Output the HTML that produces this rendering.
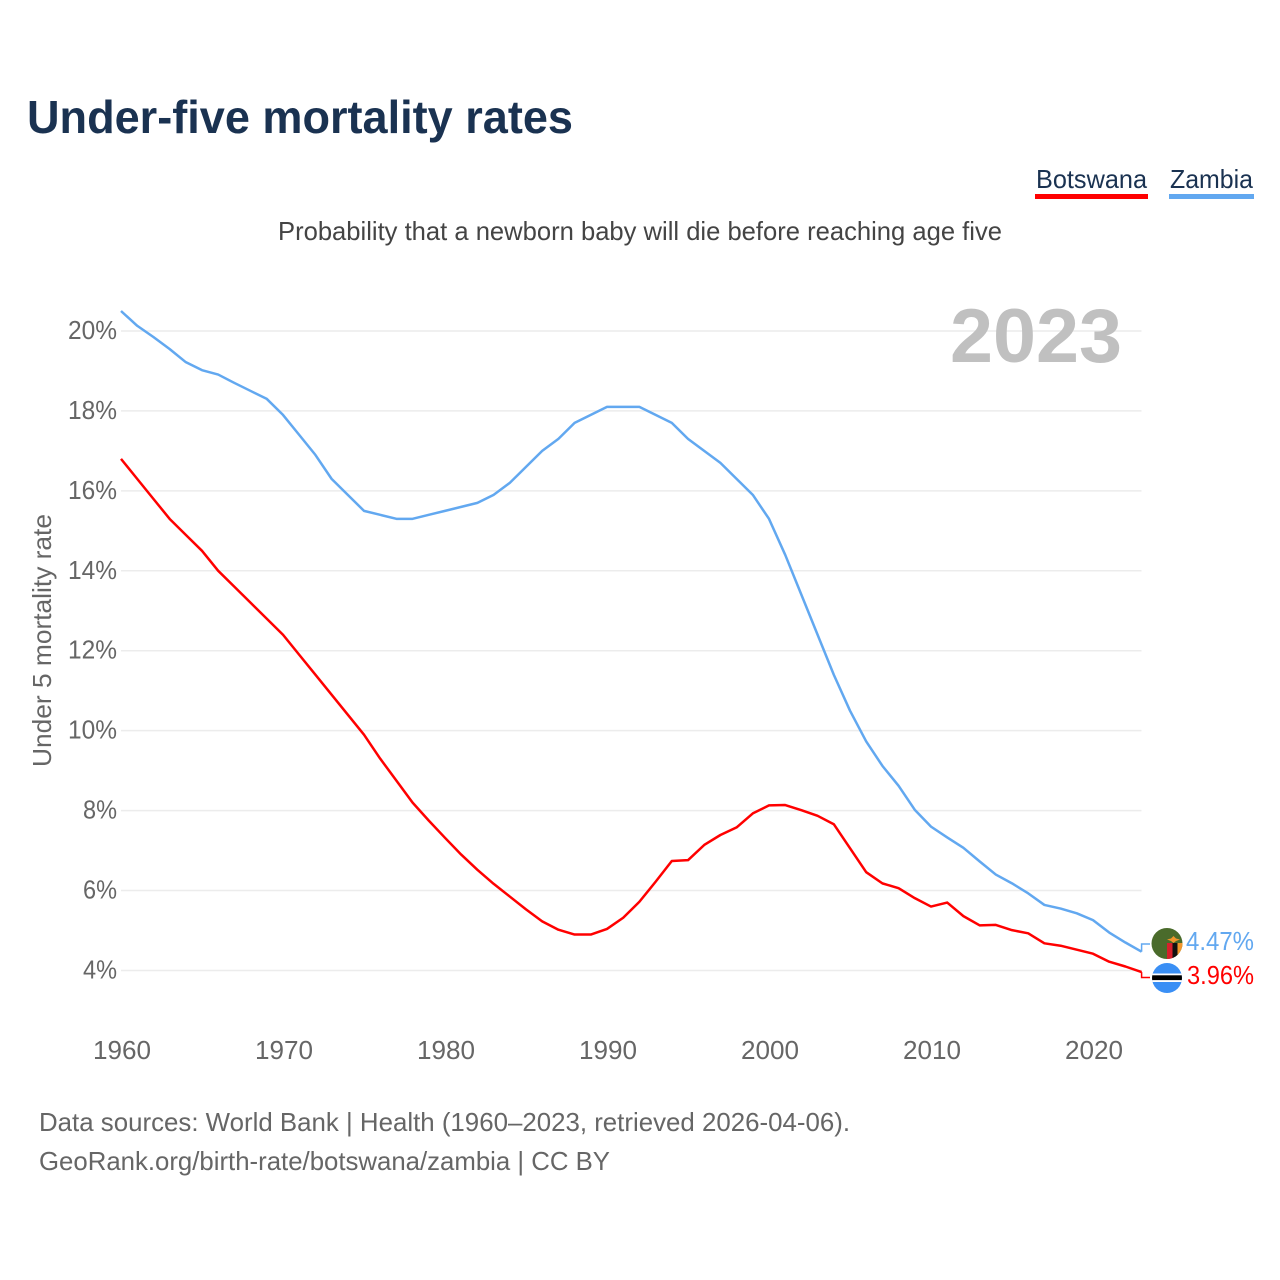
<!DOCTYPE html>
<html lang="en">
<head>
<meta charset="utf-8">
<title>Under-five mortality rates</title>
<style>
html,body{margin:0;padding:0;background:#fff;width:1280px;height:1280px;overflow:hidden}
svg{display:block;font-family:"Liberation Sans",sans-serif}
</style>
</head>
<body>
<svg id="chart" width="1280" height="1280" viewBox="0 0 1280 1280" xmlns="http://www.w3.org/2000/svg">
  <defs>
    <clipPath id="clip-zambia"><circle cx="1167" cy="943.5" r="15.5"/></clipPath>
    <clipPath id="clip-botswana"><circle cx="1167" cy="978" r="15"/></clipPath>
  </defs>
  <rect width="1280" height="1280" fill="#fff"/>
  <text x="27" y="133" font-size="46" font-weight="700" fill="#1a3251" textLength="546" lengthAdjust="spacingAndGlyphs">Under-five mortality rates</text>
  <g>
    <g>
      <text x="1036" y="188" font-size="26" fill="#1a3251" textLength="111" lengthAdjust="spacingAndGlyphs">Botswana</text>
      <rect x="1035" y="194" width="113" height="5" fill="#ff0000"/>
    </g>
    <g>
      <text x="1170" y="188" font-size="26" fill="#1a3251" textLength="83" lengthAdjust="spacingAndGlyphs">Zambia</text>
      <rect x="1169" y="194" width="85" height="5" fill="#62a8f0"/>
    </g>
  </g>
  <text x="278" y="240" font-size="26" fill="#444" textLength="724" lengthAdjust="spacingAndGlyphs">Probability that a newborn baby will die before reaching age five</text>
  <g id="grid"></g>
  <g id="y-ticks"></g>
  <g id="x-ticks"></g>
  <text x="950" y="362" font-size="76" font-weight="700" fill="#c0c0c0" textLength="172" lengthAdjust="spacingAndGlyphs">2023</text>
  <text transform="translate(51,767) rotate(-90)" font-size="26" fill="#666" textLength="253" lengthAdjust="spacingAndGlyphs">Under 5 mortality rate</text>
  <g id="series"></g>
  <g>
    <g clip-path="url(#clip-zambia)">
      <rect x="1150" y="926" width="34" height="36" fill="#4a6b2b"/>
      <rect x="1167" y="943" width="5.5" height="18" fill="#d6202c"/>
      <rect x="1172.5" y="943" width="5" height="18" fill="#111"/>
      <rect x="1177.5" y="943" width="5" height="18" fill="#f2962b"/>
      <path d="M1167 939.5l4-1 2.500-2.500 2.500 2.500 4 1-4 1.500-2.500 2-2.500-2z" fill="#f2962b"/>
    </g>
  </g>
  <g>
    <g clip-path="url(#clip-botswana)">
      <rect x="1150" y="962" width="34" height="32" fill="#3a8ff5"/>
      <rect x="1150" y="973.500" width="34" height="8.500" fill="#fff"/>
      <rect x="1150" y="975.300" width="34" height="4.800" fill="#000"/>
    </g>
  </g>
  <text id="label-zambia" x="1186" y="950" font-size="26" fill="#62a8f0" textLength="68" lengthAdjust="spacingAndGlyphs"></text>
  <text id="label-botswana" x="1187" y="984" font-size="26" fill="#ff0000" textLength="67" lengthAdjust="spacingAndGlyphs"></text>
  <g>
    <text x="39" y="1131" font-size="26" fill="#666" textLength="811" lengthAdjust="spacingAndGlyphs">Data sources: World Bank | Health (1960–2023, retrieved 2026-04-06).</text>
    <text x="39" y="1170" font-size="26" fill="#666" textLength="571" lengthAdjust="spacingAndGlyphs">GeoRank.org/birth-rate/botswana/zambia | CC BY</text>
  </g>
</svg>
<script>
const firstYear = 1960;
const xTickYears = [1960, 1970, 1980, 1990, 2000, 2010, 2020];
const yTickValues = [4, 6, 8, 10, 12, 14, 16, 18, 20];
const zambiaValues = [20.5, 20.13, 19.85, 19.55, 19.22, 19.02, 18.91, 18.7, 18.5, 18.3, 17.9, 17.4, 16.9, 16.3, 15.9, 15.5, 15.4, 15.3, 15.3, 15.4, 15.5, 15.6, 15.7, 15.9, 16.2, 16.6, 17.0, 17.3, 17.7, 17.9, 18.1, 18.1, 18.1, 17.9, 17.7, 17.3, 17.0, 16.7, 16.3, 15.9, 15.3, 14.4, 13.4, 12.4, 11.4, 10.5, 9.73, 9.12, 8.62, 8.02, 7.6, 7.33, 7.07, 6.73, 6.4, 6.18, 5.93, 5.64, 5.55, 5.43, 5.26, 4.95, 4.7, 4.47];
const botswanaValues = [16.8, 16.3, 15.8, 15.3, 14.9, 14.5, 14.0, 13.6, 13.2, 12.8, 12.4, 11.9, 11.4, 10.9, 10.4, 9.9, 9.3, 8.75, 8.2, 7.75, 7.32, 6.9, 6.52, 6.17, 5.85, 5.53, 5.23, 5.02, 4.9, 4.9, 5.04, 5.32, 5.72, 6.22, 6.74, 6.76, 7.14, 7.39, 7.58, 7.93, 8.13, 8.14, 8.01, 7.87, 7.66, 7.06, 6.46, 6.18, 6.06, 5.81, 5.6, 5.7, 5.36, 5.13, 5.14, 5.01, 4.93, 4.68, 4.62, 4.52, 4.42, 4.22, 4.1, 3.96];

const SVG_NS = 'http://www.w3.org/2000/svg';
function xScale(year) { return 121 + (year - 1960) * 16.2; }
function yScale(value) { return 970.5 - (value - 4) * 39.97; }
function make(tag, attrs, parent) {
  const el = document.createElementNS(SVG_NS, tag);
  for (const key in attrs) el.setAttribute(key, attrs[key]);
  parent.appendChild(el);
  return el;
}

const gridGroup = document.getElementById('grid');
const yTickGroup = document.getElementById('y-ticks');
const xTickGroup = document.getElementById('x-ticks');
const seriesGroup = document.getElementById('series');

yTickValues.forEach(function (value) {
  const line = make('line', { x1: xScale(1960), x2: 1141.5, y1: yScale(value), y2: yScale(value), stroke: '#ececec', 'stroke-width': 1.5 }, gridGroup);
  
  
  const label = make('text', { x: 117, y: yScale(value) + 8, 'text-anchor': 'end', 'font-size': 26, fill: '#666', textLength: value >= 10 ? 49 : 34, lengthAdjust: 'spacingAndGlyphs' }, yTickGroup);
  label.textContent = value + '%';
  
  
});

xTickYears.forEach(function (year) {
  const label = make('text', { x: xScale(year) - 28, y: 1059, 'font-size': 26, fill: '#666', textLength: 58, lengthAdjust: 'spacingAndGlyphs' }, xTickGroup);
  label.textContent = String(year);
  
  
});

function linePath(values) {
  return values.map(function (value, i) {
    return (i ? 'L' : 'M') + xScale(firstYear + i).toFixed(2) + ' ' + yScale(value).toFixed(2);
  }).join(' ');
}

const botswanaLine = make('path', { d: linePath(botswanaValues), fill: 'none', stroke: '#ff0000', 'stroke-width': 2.5, 'stroke-linejoin': 'round' }, seriesGroup);



const zambiaLine = make('path', { d: linePath(zambiaValues), fill: 'none', stroke: '#62a8f0', 'stroke-width': 2.5, 'stroke-linejoin': 'round' }, seriesGroup);



const lastX = xScale(firstYear + zambiaValues.length - 1);
const zambiaConnector = make('path', { d: 'M' + lastX + ' ' + yScale(zambiaValues[zambiaValues.length - 1]) + ' V944 H1150', fill: 'none', stroke: '#62a8f0', 'stroke-width': 1.5 }, seriesGroup);



const botswanaConnector = make('path', { d: 'M' + lastX + ' ' + yScale(botswanaValues[botswanaValues.length - 1]) + ' V977.500 H1150', fill: 'none', stroke: '#ff0000', 'stroke-width': 1.5 }, seriesGroup);



document.getElementById('label-zambia').textContent = zambiaValues[zambiaValues.length - 1].toFixed(2) + '%';
document.getElementById('label-botswana').textContent = botswanaValues[botswanaValues.length - 1].toFixed(2) + '%';
</script>
</body>
</html>
